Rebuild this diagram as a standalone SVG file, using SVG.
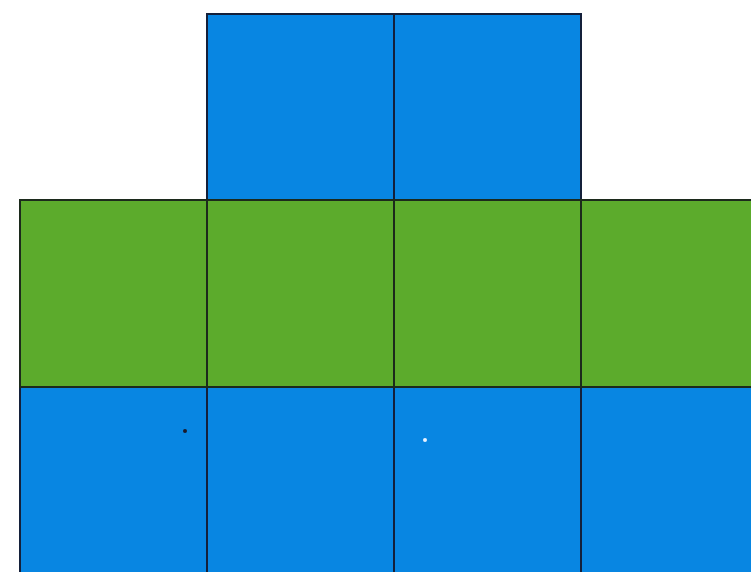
<svg xmlns="http://www.w3.org/2000/svg" width="751" height="572" viewBox="0 0 751 572">
<style>
.b{fill:#0886e2;stroke:#14203a;stroke-width:2}
.g{fill:#5cab2c;stroke:#1c2a1c;stroke-width:2}
</style>
<rect width="751" height="572" fill="#ffffff"/>
<g id="top-row">
<rect id="t1" class="b" x="207" y="14" width="187" height="186"/>
<rect id="t2" class="b" x="394" y="14" width="187" height="186"/>
</g>
<g id="bottom-row">
<rect id="b1" class="b" x="20" y="387" width="187" height="190"/>
<rect id="b2" class="b" x="207" y="387" width="187" height="190"/>
<rect id="b3" class="b" x="394" y="387" width="187" height="190"/>
<rect id="b4" class="b" x="581" y="387" width="187" height="190"/>
</g>
<g id="middle-row">
<rect id="m1" class="g" x="20" y="200" width="187" height="187"/>
<rect id="m2" class="g" x="207" y="200" width="187" height="187"/>
<rect id="m3" class="g" x="394" y="200" width="187" height="187"/>
<rect id="m4" class="g" x="581" y="200" width="187" height="187"/>
</g>
<circle cx="185" cy="431" r="2" fill="#1a1a2a"/>
<circle cx="425" cy="440" r="2" fill="#e8f2ff"/>
</svg>
